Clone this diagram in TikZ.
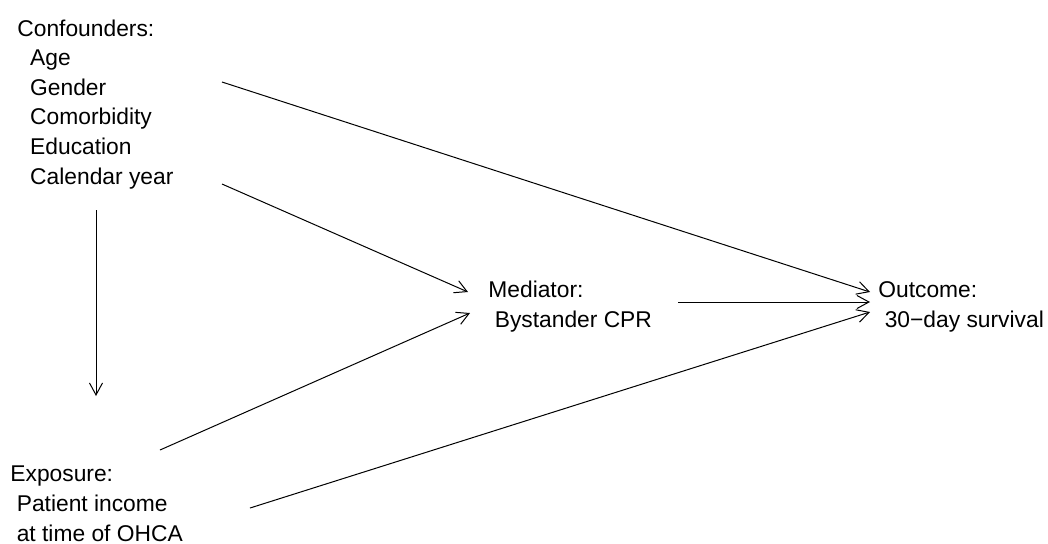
\documentclass[tikz,border=0pt]{standalone}
\usepackage{fontspec}
\setmainfont{Liberation Sans}
\usetikzlibrary{arrows.meta}
\begin{document}
\begin{tikzpicture}[x=0.5pt,y=-0.5pt,
  lbl/.style={inner sep=0pt, anchor=base west, align=left, font=\fontsize{11.4}{14.8}\selectfont},
  arr/.style={-{Straight Barb[length=6pt,width=6.5pt]}, line width=0.5pt}]
\useasboundingbox (0,0) rectangle (1048,543);
% anchor = baseline of the last line
\node[lbl] (conf) at (17,184) {Confounders:\\\hspace*{6.4pt}Age\\\hspace*{6.4pt}Gender\\\hspace*{6.4pt}Comorbidity\\\hspace*{6.4pt}Education\\\hspace*{6.4pt}Calendar year};
\node[lbl] (med) at (488,327) {Mediator:\\\hspace*{3.2pt}Bystander CPR};
\node[lbl] (out) at (878,327) {Outcome:\\\hspace*{3.2pt}30−day survival};
\node[lbl] (exp) at (10,541) {Exposure:\\\hspace*{3.2pt}Patient income\\\hspace*{3.2pt}at time of OHCA};
% connector end points
\coordinate (c1) at (222,82);
\coordinate (c2) at (222,184);
\coordinate (c3) at (96,210);
\coordinate (e3) at (96,396);
\coordinate (m1) at (468,292);
\coordinate (m2) at (470,313);
\coordinate (x1) at (160,450);
\coordinate (x2) at (250,508);
\coordinate (ms) at (678,302);
\coordinate (o1) at (870,292);
\coordinate (o2) at (870,302);
\coordinate (o3) at (870,312);
\draw[arr] (c1) -- (o1);
\draw[arr] (c2) -- (m1);
\draw[arr] (c3) -- (e3);
\draw[arr] (x1) -- (m2);
\draw[arr] (x2) -- (o3);
\draw[arr] (ms) -- (o2);
\end{tikzpicture}
\end{document}
